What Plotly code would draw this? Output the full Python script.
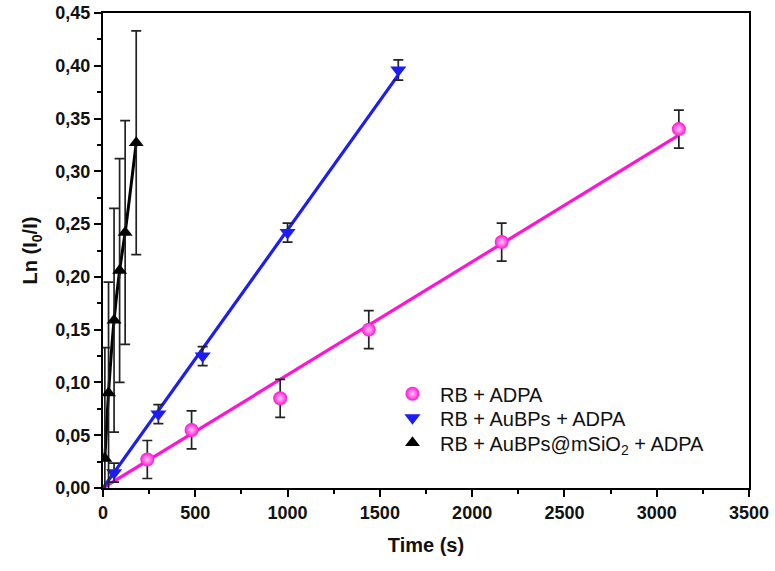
import numpy as np
import plotly.graph_objects as go

# ---- data ----
rb_t = [240, 480, 960, 1440, 2160, 3120]
rb_v = [0.027, 0.055, 0.085, 0.150, 0.233, 0.340]
rb_err = [0.018, 0.018, 0.018, 0.018, 0.018, 0.018]

aubp_t = [60, 300, 540, 1000, 1600]
aubp_v = [0.0145, 0.070, 0.125, 0.242, 0.396]
aubp_err = [0.009, 0.009, 0.009, 0.009, 0.0095]

si_t = [10, 30, 60, 90, 120, 180]
si_v = [0.028, 0.090, 0.159, 0.206, 0.242, 0.327]
si_err = [0.105, 0.105, 0.106, 0.106, 0.106, 0.106]

names = ["RB + ADPA", "RB + AuBPs + ADPA", "RB + AuBPs@mSiO<sub>2</sub> + ADPA"]
x_ticks = [0, 500, 1000, 1500, 2000, 2500, 3000, 3500]
y_ticks = [0.00, 0.05, 0.10, 0.15, 0.20, 0.25, 0.30, 0.35, 0.40, 0.45]

PINK = "#ff14d6"
BLUE = "#1c1cf5"
BLACK = "#000000"
FONT = "Liberation Sans, Arial, sans-serif"


def origin_fit(t, v):
    t = np.asarray(t, float)
    v = np.asarray(v, float)
    k = (t * v).sum() / (t * t).sum()
    xs = np.array([0.0, t.max()])
    return xs, k * xs


fig = go.Figure()

# fitted lines
for t, v, col in [(rb_t, rb_v, PINK), (aubp_t, aubp_v, BLUE)]:
    fx, fy = origin_fit(t, v)
    fig.add_trace(go.Scatter(x=fx, y=fy, mode="lines", line=dict(color=col, width=3.2),
                             showlegend=False, hoverinfo="skip"))

# connecting line for black series
fig.add_trace(go.Scatter(x=si_t, y=si_v, mode="lines",
                         line=dict(color=BLACK, width=3, shape="spline", smoothing=0.8),
                         showlegend=False, hoverinfo="skip"))

err_style = dict(type="data", color="#222", thickness=1.7, width=5)

fig.add_trace(go.Scatter(
    x=rb_t, y=rb_v, mode="markers", name=names[0], legend="legend",
    error_y=dict(array=rb_err, **err_style),
    marker=dict(symbol="circle", size=14, color=PINK,
                gradient=dict(type="radial", color="#ffc6f5"), line=dict(width=0))))
fig.add_trace(go.Scatter(
    x=aubp_t, y=aubp_v, mode="markers", name=names[1], legend="legend2",
    error_y=dict(array=aubp_err, **err_style),
    marker=dict(symbol="triangle-down", size=14, color=BLUE, line=dict(width=0))))
fig.add_trace(go.Scatter(
    x=si_t, y=si_v, mode="markers", name=names[2], legend="legend3",
    error_y=dict(array=si_err, **err_style),
    marker=dict(symbol="triangle-up", size=13, color=BLACK, line=dict(width=0))))

axis_common = dict(
    showline=True, linecolor="black", linewidth=2, mirror=True,
    ticks="outside", ticklen=7, tickwidth=1.8, tickcolor="black",
    showgrid=False, zeroline=False, automargin=False,
    tickfont=dict(family=FONT, size=18, color="#111", weight="bold"),
)

fig.update_xaxes(range=[0, 3500], tickvals=x_ticks, tickformat="d",
                 minor=dict(ticks="outside", ticklen=4, tickwidth=1.5, tickcolor="black", dtick=250),
                 title=dict(text="Time (s)", font=dict(size=20, family=FONT, color="#111", weight="bold"),
                            standoff=16),
                 **axis_common)
fig.update_yaxes(range=[0, 0.45], tickvals=y_ticks, tickformat=".2f",
                 minor=dict(ticks="outside", ticklen=4, tickwidth=1.5, tickcolor="black", dtick=0.025),
                 title=dict(text="Ln (I<sub>0</sub>/I)", font=dict(size=20, family=FONT, color="#111", weight="bold"),
                            standoff=12),
                 **axis_common)

leg_common = dict(xanchor="left", yanchor="top", bgcolor="rgba(0,0,0,0)", borderwidth=0,
                  itemwidth=45, font=dict(size=20, color="#111"), itemsizing="trace")

fig.update_layout(
    width=775, height=571,
    margin=dict(l=103, r=26, t=13, b=83),
    paper_bgcolor="white", plot_bgcolor="white",
    separators=",.",
    font=dict(family=FONT, color="black"),
    legend=dict(x=0.4365, y=0.2395, **leg_common),
    legend2=dict(x=0.4365, y=0.1889, **leg_common),
    legend3=dict(x=0.4365, y=0.1362, **leg_common),
)

fig.write_html("out.html", config={"displayModeBar": False},
               post_script="document.body.style.margin='0';document.body.style.overflow='hidden';")
